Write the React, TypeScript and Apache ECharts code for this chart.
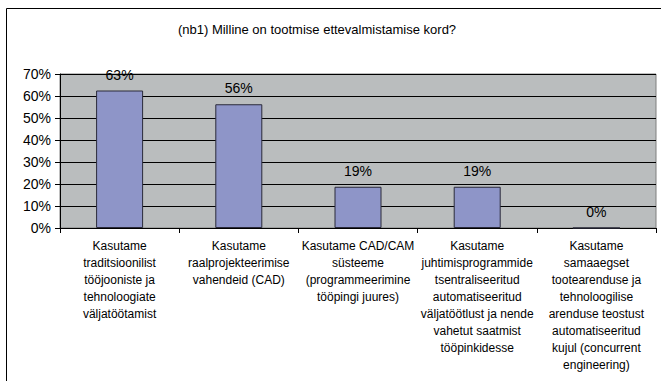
import React, { useEffect, useRef } from "react";
import * as echarts from "echarts";

const titleText = "(nb1) Milline on tootmise ettevalmistamise kord?";
const categories = [
  "Kasutame\ntraditsioonilist\ntööjooniste ja\ntehnoloogiate\nväljatöötamist",
  "Kasutame\nraalprojekteerimise\nvahendeid (CAD)",
  "Kasutame CAD/CAM\nsüsteeme\n(programmeerimine\ntööpingi juures)",
  "Kasutame\njuhtimisprogrammide\ntsentraliseeritud\nautomatiseeritud\nväljatöötlust ja nende\nvahetut saatmist\ntööpinkidesse",
  "Kasutame\nsamaaegset\ntootearenduse ja\ntehnoloogilise\narenduse teostust\nautomatiseeritud\nkujul (concurrent\nengineering)",
];
const values = [62.5, 56.25, 18.75, 18.75, 0];
const yTicks = { min: 0, max: 70, interval: 10 };

const FONT = "'Liberation Sans', Arial, sans-serif";

export default function App() {
  const ref = useRef<HTMLDivElement>(null);
  useEffect(() => {
    if (!ref.current) return;
    const chart = echarts.init(ref.current, null, { renderer: "svg" });
    chart.setOption({
      animation: false,
      backgroundColor: "#ffffff",
      textStyle: { fontFamily: FONT },
      title: {
        text: titleText,
        left: 317,
        top: 23,
        textAlign: "center",
        padding: 0,
        textStyle: { fontFamily: FONT, fontSize: 13, fontWeight: "normal", color: "#000" },
      },
      graphic: [
        {
          type: "rect",
          shape: { x: 6.5, y: 8.5, width: 900, height: 600 },
          style: { fill: "none", stroke: "#000", lineWidth: 1 },
          silent: true,
          z: 0,
        },
      ],
      grid: {
        left: 60,
        right: 5,
        top: 74,
        bottom: 153,
        show: true,
        backgroundColor: "#BABDBE",
        borderColor: "#7f7f7f",
        borderWidth: 1,
      },
      xAxis: {
        type: "category",
        data: categories,
        axisLine: { lineStyle: { color: "#000", width: 1 } },
        axisTick: { show: true, length: 5, lineStyle: { color: "#000" } },
        axisLabel: {
          interval: 0,
          fontFamily: FONT,
          fontSize: 12,
          lineHeight: 17,
          color: "#000",
          margin: 9,
        },
      },
      yAxis: {
        type: "value",
        min: yTicks.min,
        max: yTicks.max,
        interval: yTicks.interval,
        axisLine: { show: true, lineStyle: { color: "#000", width: 1 } },
        axisTick: { show: true, length: 5, lineStyle: { color: "#000" } },
        splitLine: { show: true, lineStyle: { color: "#000", width: 1 } },
        axisLabel: {
          fontFamily: FONT,
          fontSize: 14,
          color: "#000",
          margin: 9,
          formatter: (v: number) => v + "%",
        },
      },
      series: [
        {
          type: "bar",
          data: values,
          barWidth: 47,
          itemStyle: { color: "#8E95C8", borderColor: "#2a2a3a", borderWidth: 1 },
          label: {
            show: true,
            position: "top",
            distance: 9,
            fontFamily: FONT,
            fontSize: 14,
            color: "#000",
            formatter: (p: any) => Math.round(p.value) + "%",
          },
        },
      ],
    });
    return () => chart.dispose();
  }, []);
  return (
    <div
      ref={ref}
      style={{ position: "fixed", left: 0, top: 0, width: 661, height: 381 }}
    />
  );
}
